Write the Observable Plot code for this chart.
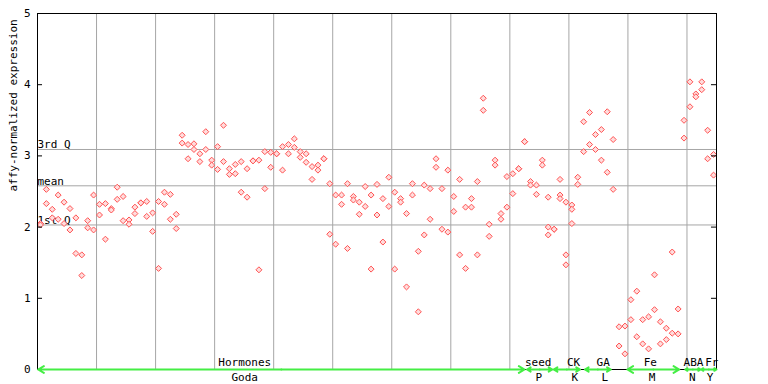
<!DOCTYPE html>
<html><head><meta charset="utf-8">
<script src="https://cdn.jsdelivr.net/npm/d3@7"></script>
<script src="https://cdn.jsdelivr.net/npm/@observablehq/plot@0.6"></script>
<style>body{margin:0;background:#fff}</style>
</head><body><div id="chart"></div>
<script>
// expression values per sample (index = position along x), replicates listed
const sampleValues = [
 [2.05,2.03],[2.53,2.33],[2.25,2.13],[2.45,2.11],[2.35,2.05],[2.26,1.96],[2.13,1.63],[1.61,1.32],[2.09,1.99],[2.45,1.96],
 [2.32,2.17],[2.33,1.83],[2.26,2.24],[2.56,2.39],[2.43,2.09],[2.10,2.04],[2.28,2.19],[2.34,2.34],[2.36,2.15],[2.20,1.94],
 [2.36,1.42],[2.49,2.32],[2.46,2.11],[2.18,1.98],[3.29,3.18],[3.16,2.96],[3.17,3.09],[3.03,2.92],[3.34,3.09],[2.94,2.87],
 [3.13,2.81],[3.43,2.92],[2.82,2.74],[2.88,2.75],[2.92,2.49],[2.82,2.42],[2.93,2.93],[2.94,1.40],[3.06,2.54],[3.05,2.84],
 [3.03,3.03],[3.13,2.80],[3.16,3.03],[3.24,3.12],[3.06,2.98],[3.03,2.91],[2.85,2.67],[2.87,2.80],[2.96,2.96],[2.61,1.90],
 [2.45,1.76],[2.45,2.32],[2.61,1.70],[2.43,2.38],[2.35,2.18],[2.57,2.29],[2.45,1.41],[2.60,2.17],[2.40,1.79],[2.70,2.29],
 [2.49,1.41],[2.40,2.35],[2.19,1.16],[2.61,2.45],[1.66,0.81],[2.59,1.89],[2.54,2.11],[2.96,2.84],[2.54,1.97],[2.80,1.93],
 [2.43,2.22],[2.67,1.61],[2.28,1.42],[2.40,2.28],[2.64,1.61],[3.81,3.64],[2.04,1.87],[2.94,2.87],[2.19,2.11],[2.71,2.28],
 [2.75,2.47],[2.82,2.82],[3.20,3.20],[2.64,2.59],[2.59,2.46],[2.94,2.87],[2.42,2.00,1.89],[1.97,1.97],[2.67,2.45,2.40],[2.35,1.61,1.47],
 [2.31,2.25,2.05],[2.70,2.60],[3.48,3.06],[3.61,3.16],[3.30,3.09],[3.37,2.94],[3.62,2.77],[3.23,2.53],[0.60,0.33],[0.61,0.22],
 [0.98,0.70],[1.10,0.46],[0.70,0.36],[0.74,0.29],[1.33,0.84],[0.67,0.36],[0.58,0.42],[1.65,0.51],[0.85,0.50],[3.50,3.25],
 [4.04,3.69],[3.87,3.83],[4.04,3.93],[3.36,2.96],[3.02,2.73]
];
const yTicks = [0,1,2,3,4,5];
const quartileNames = ["3rd Q","mean","1st Q"];
const quartileValues = [3.09,2.58,2.03];
const gridPositions = [9.5,19.5,29.5,39.5,49.5,59.5,69.5,79.5,89.5,99.5,109.5];
// experiment groups along the bottom
const groupNames = ["Hormones","seed","CK","GA","Fe","ABA","Fr"];
const groupCodes = ["Goda","P","K","L","M","N","Y"];
const groupStart = [-0.4,82.4,86.9,92.2,99.4,109.2,111.9];
const groupEnd   = [82.0,86.7,91.4,96.6,108.2,111.8,114.5];
const groupLabelPos = [34.6,84.3,90.3,95.3,103.3,110.6,113.7];
const codeLabelPos  = [34.6,84.4,90.5,95.6,103.6,110.4,113.4];

const points = sampleValues.flatMap((vals,i)=>vals.map(v=>({i, v})));
const groups = groupNames.map((name,k)=>({name, code:groupCodes[k], s:groupStart[k], e:groupEnd[k],
  m:(groupStart[k]+groupEnd[k])/2, lp:groupLabelPos[k], cp:codeLabelPos[k]}));
const quartiles = quartileNames.map((n,k)=>({n, v:quartileValues[k]}));

const font = "DejaVu Sans Mono";
const green = "#44ee44";
const chart = Plot.plot({
  width:768, height:384,
  marginLeft:37, marginRight:52, marginTop:13, marginBottom:15,
  x:{domain:[-0.5,114.5], axis:null},
  y:{domain:[0,5], axis:null},
  style:{fontFamily:font, fontSize:"11px", background:"white", color:"black"},
  marks:[
    Plot.ruleX(gridPositions, {stroke:"#a6a6a6", strokeWidth:1}),
    Plot.ruleY(quartiles, {y:"v", stroke:"#a6a6a6", strokeWidth:1}),
    Plot.text(quartiles, {x:-0.5, y:"v", text:"n", textAnchor:"start", lineAnchor:"bottom", dy:-1, fontSize:11}),
    Plot.dot(points, {x:"i", y:"v", symbol:"diamond2", r:2.7, fill:"#ffdcdc", stroke:"#ff5252", strokeWidth:1}),
    // frame
    Plot.ruleX([-0.5,114.5], {y1:0, y2:5, stroke:"black"}),
    Plot.ruleY([0,5], {x1:-0.5, x2:114.5, stroke:"black"}),
    // inward ticks
    Plot.ruleY(yTicks, {x1:-0.5, x2:0.35, stroke:"black"}),
    Plot.ruleY(yTicks, {x1:113.65, x2:114.5, stroke:"black"}),
    Plot.text(yTicks, {x:-0.5, y:d=>d, text:d=>String(d), textAnchor:"end", dx:-7, fontSize:11}),
    Plot.text(["affy-normalized expression"], {frameAnchor:"left", dx:-24, rotate:-90, fontSize:11}),
    // group arrows
    Plot.arrow(groups, {x1:"m", x2:"e", y1:0, y2:0, stroke:green, strokeWidth:2, headLength:5}),
    Plot.arrow(groups, {x1:"m", x2:"s", y1:0, y2:0, stroke:green, strokeWidth:2, headLength:5}),
    Plot.text(groups, {x:"lp", y:0, text:"name", dy:-7, fontSize:11}),
    Plot.text(groups, {x:"cp", y:0, text:"code", dy:8, fontSize:11})
  ]
});
document.getElementById("chart").appendChild(chart);
</script>
</body></html>
